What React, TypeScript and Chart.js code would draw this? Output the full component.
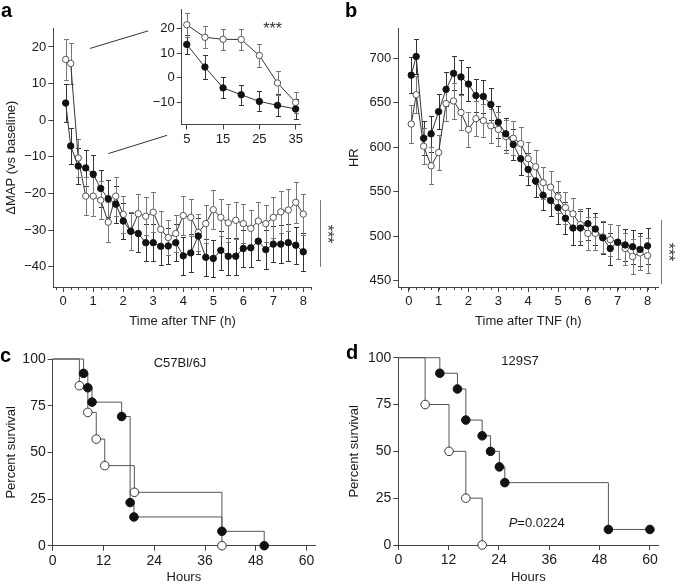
import React, { useEffect, useRef } from 'react';
import { Chart, registerables } from 'chart.js';
Chart.register(...registerables);

const FONT = "'Liberation Sans', Arial, Helvetica, sans-serif";
const AXIS = '#444';
const TXT = '#1a1a1a';

// ---------- Panel a / b : time course ----------
const timeH = [0.083, 0.25, 0.5, 0.75, 1, 1.25, 1.5, 1.75, 2, 2.25, 2.5, 2.75, 3, 3.25, 3.5, 3.75, 4, 4.25, 4.5, 4.75, 5, 5.25, 5.5, 5.75, 6, 6.25, 6.5, 6.75, 7, 7.25, 7.5, 7.75, 8];
const mapOpen = [16.6, 15.5, -10.3, -20.7, -20.7, -21.8, -27.8, -20.7, -25.7, -30.3, -25.5, -26.2, -25.1, -29.8, -32.0, -30.9, -26.0, -26.5, -30.6, -28.2, -24.4, -26.5, -28.0, -27.3, -28.2, -29.5, -27.5, -28.2, -26.5, -25.0, -24.5, -22.4, -25.6];
const mapOpenErr = [5.5, 5.5, 5.3, 5.2, 5.3, 5.2, 5.5, 5.3, 5.0, 5.2, 5.3, 5.2, 5.5, 5.0, 4.8, 5.0, 5.2, 5.0, 5.0, 5.2, 5.3, 5.0, 5.2, 5.0, 5.3, 4.9, 5.2, 5.0, 5.5, 5.7, 5.8, 5.6, 5.6];
const mapFilled = [4.7, -7.0, -12.5, -13.0, -14.7, -18.6, -21.4, -22.9, -27.5, -30.3, -30.9, -33.4, -33.4, -34.4, -34.3, -33.4, -37.0, -36.2, -31.6, -37.4, -37.7, -35.5, -37.1, -37.1, -35.0, -34.8, -33.0, -35.3, -33.8, -33.8, -33.4, -34.1, -35.9];
const mapFilledErr = [5.3, 5.0, 5.0, 5.0, 5.3, 5.0, 5.0, 5.0, 5.0, 5.0, 5.0, 5.0, 5.0, 5.2, 5.0, 5.0, 5.2, 5.3, 5.0, 5.0, 5.0, 5.3, 5.0, 5.0, 5.0, 5.3, 5.2, 5.3, 5.0, 5.2, 5.0, 5.0, 5.2];

const hrOpen = [626, 659, 601, 579, 594, 649, 652, 639, 620, 632, 630, 624, 620, 612, 610, 604, 587, 578, 560, 555, 544, 532, 525, 513, 503, 503, 499, 496, 493, 486, 477, 481, 478];
const hrOpenErr = [21, 21, 20, 21, 20, 20, 20, 20, 20, 20, 19, 19, 19, 19, 19, 19, 19, 19, 18, 18, 18, 18, 18, 18, 19, 19, 18, 18, 19, 18, 20, 19, 20];
const hrFilled = [681, 702, 610, 615, 640, 665, 683, 679, 671, 658, 657, 648, 628, 615, 603, 587, 575, 562, 546, 540, 532, 520, 509, 509, 514, 508, 498, 486, 493, 490, 488, 485, 489];
const hrFilledErr = [20, 20, 19, 20, 20, 19, 19, 19, 19, 19, 19, 18, 18, 18, 17, 18, 18, 18, 17, 17, 18, 18, 19, 19, 18, 18, 18, 18, 19, 18, 19, 19, 20];

const hourTicks = [0, 1, 2, 3, 4, 5, 6, 7, 8];
const minorHourStep = 0.25;
const mapTicks = [-40, -30, -20, -10, 0, 10, 20];
const hrTicks = [450, 500, 550, 600, 650, 700];

// ---------- Inset (minutes) ----------
const insetMin = [5, 10, 15, 20, 25, 30, 35];
const insetOpen = [21.6, 16.5, 15.7, 15.6, 9.1, -2.1, -10.0];
const insetOpenErr = [4.8, 4.5, 4.3, 4.2, 4.5, 4.7, 4.2];
const insetFilled = [13.6, 4.4, -4.1, -6.9, -9.6, -11.2, -12.7];
const insetFilledErr = [4.0, 4.7, 4.3, 4.0, 4.1, 4.5, 4.1];
const insetXTicks = [5, 15, 25, 35];
const insetYTicks = [-10, 0, 10, 20];

// ---------- Survival ----------
const c57FilledT = [0, 7.3, 8.3, 9.3, 16.3, 18.3, 19.2, 40, 50];
const c57FilledS = [100, 92.3, 84.6, 76.9, 69.2, 23.1, 15.4, 7.7, 0];
const c57OpenT = [0, 6.3, 8.3, 10.3, 12.3, 19.3, 40];
const c57OpenS = [100, 85.7, 71.4, 57.1, 42.9, 28.6, 0];

const s129FilledT = [0, 9.9, 14.1, 16.1, 20, 22, 24.1, 25.4, 50.1, 60];
const s129FilledS = [100, 91.7, 83.3, 66.7, 58.3, 50, 41.7, 33.3, 8.3, 8.3];
const s129OpenT = [0, 6.4, 12.1, 16.1, 20];
const s129OpenS = [100, 75, 50, 25, 0];

const hoursTicks = [0, 12, 24, 36, 48, 60];
const survTicks = [0, 25, 50, 75, 100];

const pts = (xs: number[], ys: number[]) => xs.map((x, i) => ({ x, y: ys[i] }));
const minus = (v: any) => String(v).replace('-', '\u2212');
const font13 = { family: FONT, size: 13 };
const font14 = { family: FONT, size: 14 };

const errorBars = {
  id: 'errorBars',
  beforeDatasetsDraw(chart: any) {
    const { ctx } = chart;
    const xs = chart.scales.x, ys = chart.scales.y;
    chart.data.datasets.forEach((ds: any) => {
      if (!ds.errors) return;
      ctx.save();
      ctx.strokeStyle = ds.errorColor;
      ctx.lineWidth = 1;
      const cap = 2.5;
      ds.data.forEach((p: any, i: number) => {
        const e = ds.errors[i];
        const x = Math.round(xs.getPixelForValue(p.x)) + 0.5;
        const y1 = Math.round(ys.getPixelForValue(p.y + e)) + 0.5;
        const y2 = Math.round(ys.getPixelForValue(p.y - e)) + 0.5;
        ctx.beginPath();
        ctx.moveTo(x, y1); ctx.lineTo(x, y2);
        ctx.moveTo(x - cap, y1); ctx.lineTo(x + cap, y1);
        ctx.moveTo(x - cap, y2); ctx.lineTo(x + cap, y2);
        ctx.stroke();
      });
      ctx.restore();
    });
  },
};

function decor(opts: { minor?: boolean; lines?: number[][]; sig?: { x: number; y1: number; y2: number } }) {
  return {
    id: 'decor',
    afterDraw(chart: any) {
      const { ctx, chartArea } = chart;
      const xs = chart.scales.x, ys = chart.scales.y;
      ctx.save();
      ctx.strokeStyle = AXIS;
      ctx.lineWidth = 1;
      if (opts.minor) {
        const b = chartArea.bottom;
        ctx.beginPath();
        for (let v = Math.ceil(xs.min / minorHourStep) * minorHourStep; v <= xs.max; v += minorHourStep) {
          const px = Math.round(xs.getPixelForValue(v)) + 0.5;
          ctx.moveTo(px, b); ctx.lineTo(px, b + 3);
        }
        ctx.stroke();
      }
      (opts.lines || []).forEach((l) => {
        ctx.beginPath();
        ctx.strokeStyle = '#333';
        ctx.moveTo(xs.getPixelForValue(l[0]), ys.getPixelForValue(l[1]));
        ctx.lineTo(xs.getPixelForValue(l[2]), ys.getPixelForValue(l[3]));
        ctx.stroke();
      });
      if (opts.sig) {
        const px = Math.round(xs.getPixelForValue(opts.sig.x)) + 0.5;
        ctx.strokeStyle = '#777';
        ctx.beginPath();
        ctx.moveTo(px, ys.getPixelForValue(opts.sig.y1));
        ctx.lineTo(px, ys.getPixelForValue(opts.sig.y2));
        ctx.stroke();
      }
      ctx.restore();
    },
  };
}

function axisX(min: number, max: number, ticks: number[], height: number, title: string | null, tickFont: any = font13) {
  return {
    type: 'linear',
    min, max,
    afterFit: (s: any) => { s.height = height; },
    afterBuildTicks: (s: any) => { s.ticks = ticks.map((v) => ({ value: v })); },
    ticks: { font: tickFont, color: TXT, padding: 2, maxRotation: 0, autoSkip: false, callback: (v: any) => minus(v) },
    grid: { display: true, drawOnChartArea: false, drawTicks: true, tickLength: 5, color: AXIS },
    border: { display: true, color: AXIS, width: 1 },
    title: title ? { display: true, text: title, font: font13, color: TXT, padding: { top: 0, bottom: 1 } } : { display: false },
  };
}

function axisY(min: number, max: number, ticks: number[], width: number, title: string | null, padTop = 4, tickFont: any = font13) {
  return {
    type: 'linear',
    min, max,
    afterFit: (s: any) => { s.width = width; },
    afterBuildTicks: (s: any) => { s.ticks = ticks.map((v) => ({ value: v })); },
    ticks: { font: tickFont, color: TXT, padding: 2, autoSkip: false, callback: (v: any) => minus(v) },
    grid: { display: true, drawOnChartArea: false, drawTicks: true, tickLength: 5, color: AXIS },
    border: { display: true, color: AXIS, width: 1 },
    title: title ? { display: true, text: title, font: font13, color: TXT, padding: { top: padTop, bottom: 0 } } : { display: false },
  };
}

function seriesDs(data: any[], errors: number[], filled: boolean, radius: number) {
  return {
    data,
    errors,
    errorColor: filled ? '#333' : '#777',
    borderColor: '#333',
    borderWidth: 1,
    pointRadius: radius,
    pointBackgroundColor: filled ? '#111' : '#fff',
    pointBorderColor: filled ? '#111' : '#555',
    pointBorderWidth: 1,
    clip: false,
    tension: 0,
  };
}

function survDs(data: any[], filled: boolean) {
  return {
    data,
    stepped: true,
    borderColor: '#555',
    borderWidth: 1,
    pointRadius: (c: any) => (c.dataIndex === 0 ? 0 : 4.3),
    pointBackgroundColor: filled ? '#111' : '#fff',
    pointBorderColor: filled ? '#111' : '#333',
    pointBorderWidth: 1,
    clip: false,
  };
}

const baseOpts = (padding: any) => ({
  animation: false,
  responsive: false,
  maintainAspectRatio: false,
  layout: { padding },
  plugins: { legend: { display: false }, tooltip: { enabled: false }, title: { display: false } },
});

const makeA = () => ({
  type: 'line',
  data: {
    datasets: [
      seriesDs(pts(timeH, mapFilled), mapFilledErr, true, 3.2),
      seriesDs(pts(timeH, mapOpen), mapOpenErr, false, 3.2),
    ],
  },
  options: {
    ...baseOpts({ top: 28.3, right: 30.3, left: 0, bottom: 0 }),
    scales: {
      x: axisX(-0.33, 8.28, hourTicks, 43, 'Time after TNF (h)'),
      y: axisY(-45.5, 25.1, mapTicks, 53.3, '\u0394MAP (vs baseline)'),
    },
  },
  plugins: [errorBars, decor({ minor: true, lines: [[0.89, 19.6, 2.83, 24.4], [1.5, -9.1, 3.46, -4.1]], sig: { x: 8.56, y1: -21.8, y2: -40 } })],
});

const makeInset = () => ({
  type: 'line',
  data: {
    datasets: [
      seriesDs(pts(insetMin, insetFilled), insetFilledErr, true, 3.2),
      seriesDs(pts(insetMin, insetOpen), insetOpenErr, false, 3.2),
    ],
  },
  options: {
    ...baseOpts({ top: 6.7, right: 10, left: 0, bottom: 0 }),
    scales: {
      x: axisX(3.6, 36.2, insetXTicks, 25.5, null),
      y: axisY(-19, 27.7, insetYTicks, 41.7, null),
    },
  },
  plugins: [errorBars],
});

const makeB = () => ({
  type: 'line',
  data: {
    datasets: [
      seriesDs(pts(timeH, hrFilled), hrFilledErr, true, 3.2),
      seriesDs(pts(timeH, hrOpen), hrOpenErr, false, 3.2),
    ],
  },
  options: {
    ...baseOpts({ top: 28.3, right: 26.7, left: 0, bottom: 0 }),
    scales: {
      x: axisX(-0.35, 8.36, hourTicks, 43, 'Time after TNF (h)'),
      y: axisY(442.7, 733.7, hrTicks, 56.3, 'HR', 5),
    },
  },
  plugins: [errorBars, decor({ minor: true, sig: { x: 8.45, y1: 518, y2: 446 } })],
});

const makeC = () => ({
  type: 'line',
  data: { datasets: [survDs(pts(c57FilledT, c57FilledS), true), survDs(pts(c57OpenT, c57OpenS), false)] },
  options: {
    ...baseOpts({ top: 29, right: 27, left: 0, bottom: 0 }),
    scales: {
      x: axisX(0, 62, hoursTicks, 40.3, 'Hours', font14),
      y: axisY(0, 100, survTicks, 52.7, 'Percent survival', 4, font14),
    },
  },
});

const makeD = () => ({
  type: 'line',
  data: { datasets: [survDs(pts(s129FilledT, s129FilledS), true), survDs(pts(s129OpenT, s129OpenS), false)] },
  options: {
    ...baseOpts({ top: 27.7, right: 26.7, left: 0, bottom: 0 }),
    scales: {
      x: axisX(0, 62, hoursTicks, 41, 'Hours', font14),
      y: axisY(0, 100, survTicks, 56.3, 'Percent survival', 5, font14),
    },
  },
});

function ChartCanvas({ make, left, top, width, height }: any) {
  const ref = useRef<HTMLCanvasElement | null>(null);
  useEffect(() => {
    const chart = new Chart(ref.current as HTMLCanvasElement, make());
    return () => chart.destroy();
  }, []);
  return (
    <canvas
      ref={ref}
      width={width}
      height={height}
      style={{ position: 'absolute', left, top, width, height }}
    />
  );
}

const label = (text: string, left: number, top: number) => (
  <div style={{ position: 'absolute', left, top, fontSize: 20, lineHeight: '20px', fontWeight: 'bold', color: '#000' }}>{text}</div>
);

const centered = (content: any, cx: number, top: number, size = 13) => (
  <div style={{ position: 'absolute', left: cx - 60, width: 120, top, textAlign: 'center', fontSize: size, lineHeight: size + 'px', color: TXT }}>{content}</div>
);

// asterisks glyph center sits ~3.2px above the box centre of a 16px line
const stars = (cx: number, cy: number, rotate: boolean) => {
  const dx = rotate ? -3.2 : 0;
  const dy = rotate ? 0 : 3.2;
  return (
    <div style={{
      position: 'absolute', left: cx + dx - 20, top: cy + dy - 8, width: 40, height: 16, textAlign: 'center',
      fontSize: 16, lineHeight: '16px', color: '#333',
      transform: rotate ? 'rotate(90deg)' : undefined,
    }}>***</div>
  );
};

export default function App() {
  return (
    <div style={{ position: 'absolute', left: 0, top: 0, width: 685, height: 586, background: '#fff', fontFamily: FONT, overflow: 'hidden' }}>
      <ChartCanvas make={makeA} left={0} top={0} width={342} height={330} />
      <ChartCanvas make={makeInset} left={140} top={0} width={170} height={150} />
      <ChartCanvas make={makeB} left={342} top={0} width={343} height={330} />
      <ChartCanvas make={makeC} left={0} top={330} width={342} height={256} />
      <ChartCanvas make={makeD} left={342} top={330} width={343} height={256} />
      {label('a', 1, 0)}
      {label('b', 345, 0)}
      {label('c', 0, 345)}
      {label('d', 346, 342)}
      {stars(272.7, 26, false)}
      {stars(330, 234, true)}
      {stars(671, 252, true)}
      {centered('C57Bl/6J', 180, 355.5)}
      {centered('129S7', 520, 354)}
      {centered(<span><i>P</i>=0.0224</span>, 536.7, 516.3)}
    </div>
  );
}
